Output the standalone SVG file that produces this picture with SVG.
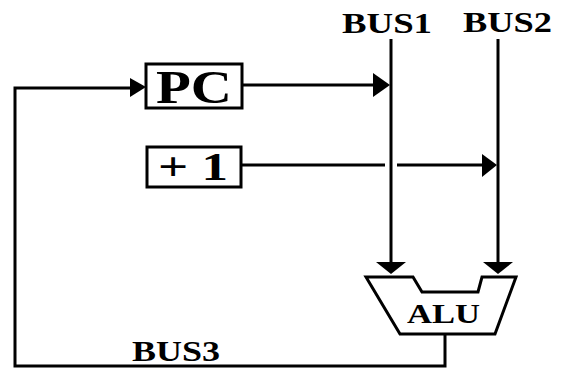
<svg xmlns="http://www.w3.org/2000/svg" width="562" height="369" viewBox="0 0 562 369">
<style>
.ln{fill:none;stroke:#000;stroke-width:3;stroke-linecap:butt;stroke-linejoin:miter}
.ah{fill:#000;stroke:none}
.box{fill:#fff;stroke:#000;stroke-width:3}
.t{font-family:"Liberation Serif","Times New Roman",serif;font-weight:bold;fill:#000}
</style>
<rect width="562" height="369" fill="#fff"/>
<g id="connectors">
<line class="ln" x1="391" y1="39" x2="391" y2="264"/>
<line class="ln" x1="498" y1="39" x2="498" y2="264"/>
<polyline class="ln" points="445,334 445,366 15,366 15,88 132,88"/>
<line class="ln" x1="242" y1="85" x2="376" y2="85"/>
<polyline class="ln" points="242,165 385,165"/>
<line class="ln" x1="397" y1="165" x2="484" y2="165"/>
<polygon class="ah" points="130,78 146,87 130,97"/>
<polygon class="ah" points="373,73 390,85 373,97"/>
<polygon class="ah" points="482,154 497,165 482,177"/>
<polygon class="ah" points="376,262 406,262 391,274"/>
<polygon class="ah" points="483,262 513,262 498,274"/>
</g>
<g id="bus1"><text class="t" x="342" y="33" font-size="30" textLength="90" lengthAdjust="spacingAndGlyphs">BUS1</text></g>
<g id="bus2"><text class="t" x="463" y="32" font-size="30" textLength="89" lengthAdjust="spacingAndGlyphs">BUS2</text></g>
<g id="bus3"><text class="t" x="132" y="361" font-size="29" textLength="88" lengthAdjust="spacingAndGlyphs">BUS3</text></g>
<g id="pc">
<rect class="box" x="146" y="64" width="96" height="44"/>
<text class="t" x="156" y="103" font-size="46" textLength="76" lengthAdjust="spacingAndGlyphs">PC</text>
</g>
<g id="plus1">
<rect class="box" x="147" y="147" width="94" height="40"/>
<text class="t" x="158" y="180" font-size="41" textLength="70" lengthAdjust="spacingAndGlyphs">+ 1</text>
</g>
<g id="alu">
<polygon class="box" points="366,277 413,277 422,292 478,292 482,277 516,277 495,334 400,334"/>
<text class="t" x="407" y="323" font-size="27" textLength="73" lengthAdjust="spacingAndGlyphs">ALU</text>
</g>
</svg>
